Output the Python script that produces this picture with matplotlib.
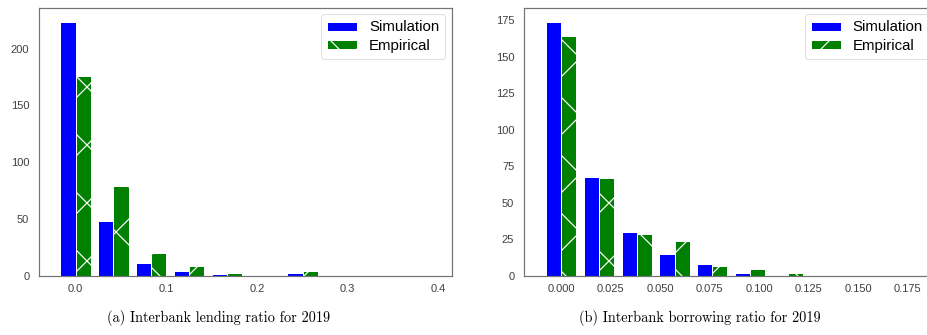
import numpy as np
import matplotlib
matplotlib.use("Agg")
import matplotlib.pyplot as plt

# histogram counts (10 bins each, starting at 0)
lend_max = 0.417
lend_sim = [223, 48, 11, 4, 2, 1, 3, 0, 0, 0]
lend_emp = [176, 79, 20, 9, 3, 1, 4, 1, 0, 0]

borrow_max = 0.191
borrow_sim = [174, 68, 30, 15, 8, 2, 0, 0, 0, 0]
borrow_emp = [164, 67, 29, 24, 7, 5, 2, 0, 0, 0]

labels = ["Simulation", "Empirical"]
lend_ticks = [0.0, 0.1, 0.2, 0.3, 0.4]
lend_yticks = [0, 50, 100, 150, 200]
borrow_ticks = [0.0, 0.025, 0.05, 0.075, 0.1, 0.125, 0.15, 0.175]
borrow_yticks = [0, 25, 50, 75, 100, 125, 150, 175]
captions = ["(a) Interbank lending ratio for 2019",
            "(b) Interbank borrowing ratio for 2019"]

DPI = 174
PT = 72.0 / DPI  # one pixel in points

plt.rcParams["font.family"] = ["Liberation Sans", "DejaVu Sans"]
plt.rcParams["hatch.linewidth"] = 0.5
plt.rcParams["patch.edgecolor"] = "white"
plt.rcParams["patch.force_edgecolor"] = True

fig = plt.figure(figsize=(927.01 / DPI, 335.01 / DPI), dpi=DPI)

W, H = 927.0, 335.0
ax_l = fig.add_axes([39.3 / W, 59 / H, (452 - 39.3) / W, (276 - 7.7) / H])
ax_r = fig.add_axes([524.3 / W, 59 / H, (935.5 - 524.3) / W, (276 - 7.7) / H])


def draw(ax, top, sim, emp, xticks, yticks, xfmt, xlim, ylim):
    edges = np.linspace(0, top, len(sim) + 1)
    left = edges[:-1]
    _, _, bars = ax.hist([left, left], bins=edges, weights=[sim, emp],
                         align="left", color=["blue", "green"],
                         edgecolor="white", linewidth=1.0 * PT, label=labels)
    for p in bars[1]:
        p.set_hatch("x")
    ax.set_xlim(*xlim)
    ax.set_ylim(*ylim)
    ax.set_xticks(xticks)
    ax.set_xticklabels([xfmt.format(t) for t in xticks])
    ax.set_yticks(yticks)
    ax.tick_params(length=0, labelsize=11.2 * PT, labelcolor="0.25")
    ax.tick_params(axis="y", pad=10 * PT)
    ax.tick_params(axis="x", pad=8 * PT)
    for s in ax.spines.values():
        s.set_color("0.45")
        s.set_linewidth(1.2 * PT)
    leg = ax.legend(loc="upper right", fontsize=15 * PT, frameon=True,
                    fancybox=True, borderaxespad=0.45, labelspacing=0.3,
                    handleheight=0.55)
    leg.get_frame().set_edgecolor("0.85")
    leg.get_frame().set_linewidth(1.0 * PT)


draw(ax_l, lend_max, lend_sim, lend_emp, lend_ticks, lend_yticks, "{:.1f}",
     (-0.040, 0.415), (0, 236))
draw(ax_r, borrow_max, borrow_sim, borrow_emp, borrow_ticks, borrow_yticks,
     "{:.3f}", (-0.0186, 0.1892), (0, 183.5))

fig.text(218.5 / W, 17 / H, captions[0], family="cmr10", fontsize=14.3 * PT,
         ha="center", va="center")
fig.text(700 / W, 17 / H, captions[1], family="cmr10", fontsize=14.3 * PT,
         ha="center", va="center")

fig.savefig("out.png", dpi=DPI, facecolor="white")
